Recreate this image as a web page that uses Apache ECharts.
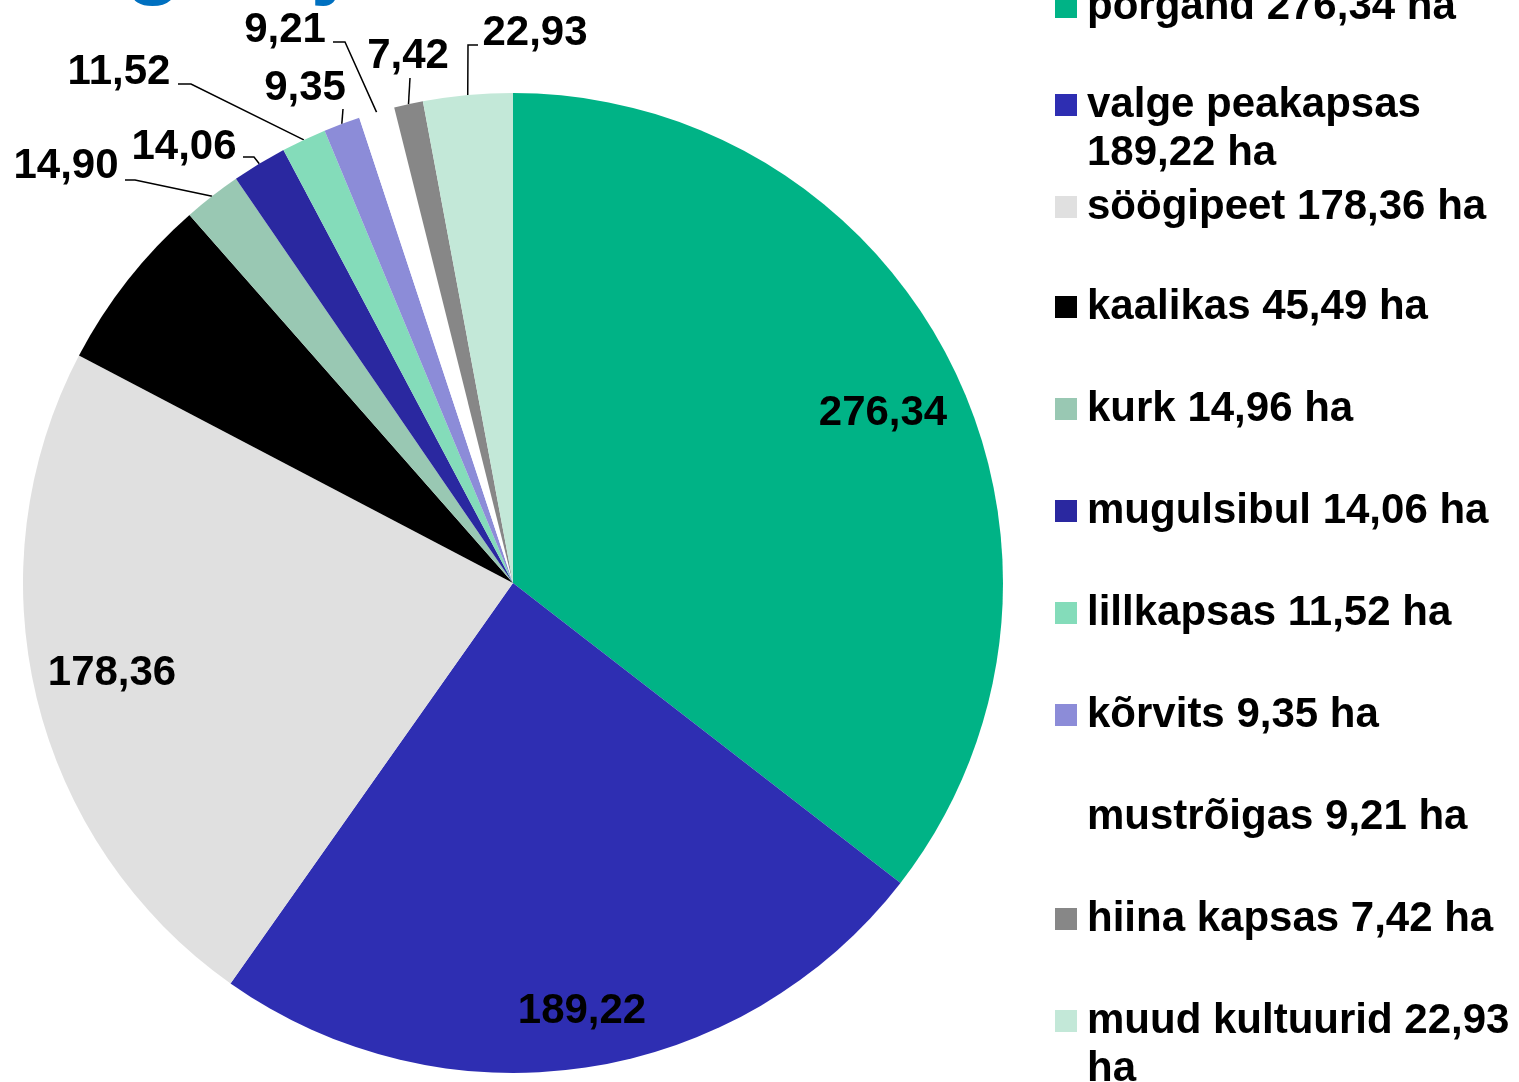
<!DOCTYPE html>
<html lang="et">
<head>
<meta charset="UTF-8">
<title>Köögiviljad</title>
<style>
  html, body { margin: 0; padding: 0; background: #fff; }
  #main { width: 1519px; height: 1082px; }
</style>
<script src="https://cdn.jsdelivr.net/npm/echarts@6.0.0/dist/echarts.min.js"></script>
</head>
<body>
<div id="main"></div>
<script>
// data
var names = ['porgand', 'valge peakapsas', 'söögipeet', 'kaalikas', 'kurk', 'mugulsibul',
             'lillkapsas', 'kõrvits', 'mustrõigas', 'hiina kapsas', 'muud kultuurid'];
var areas = [276.34, 189.22, 178.36, 45.49, 14.90, 14.06, 11.52, 9.35, 9.21, 7.42, 22.93];
// the legend of the original shows 14,96 for kurk
var legendAreas = [276.34, 189.22, 178.36, 45.49, 14.96, 14.06, 11.52, 9.35, 9.21, 7.42, 22.93];
var colors = ['#00B386', '#2E2EB2', '#E0E0E0', '#000000', '#99C8B3', '#2A28A0',
              '#84DCBA', '#8C8CD8', '#FFFFFF', '#878787', '#C3E8D8'];

// label placement (layout only)
var labelPos = [
  { x: 883, y: 413 },
  { x: 582, y: 1011 },
  { x: 112, y: 673 },
  null,
  { x: 66,  y: 166, elbow: [135, 180], end: [125, 180] },
  { x: 184, y: 147, elbow: [254, 157], end: [243, 157] },
  { x: 119, y: 72,  elbow: [191, 84],  end: [178, 84] },
  { x: 305, y: 88,  elbow: [343, 109], end: [343, 109] },
  { x: 285, y: 30,  elbow: [345, 42],  end: [333, 42] },
  { x: 408, y: 56,  elbow: [410, 78],  end: [410, 78] },
  { x: 535, y: 33,  elbow: [468, 45],  end: [478, 45] }
];
var insideIdx = [0, 1, 2, 3];
var noLabelIdx = [3]; // black on black in the original, not visible
// legend rows: y of the first text line
var legendRowY = [7, 105, 207, 307, 409, 511, 613, 715, 817, 919, 1021];
var legendTextWidth = 432;

var font = '"Liberation Sans", Arial, sans-serif';
var legendFont = 'bold 42px ' + font;

function fmt(v) {
    return v.toFixed(2).replace('.', ',');
}

// simple word wrap at spaces
var ctx = document.createElement('canvas').getContext('2d');
function wrapLines(text) {
    ctx.font = legendFont;
    var words = text.split(' ');
    var lines = [];
    var cur = '';
    words.forEach(function (w) {
        var test = cur ? cur + ' ' + w : w;
        if (cur && ctx.measureText(test).width > legendTextWidth) {
            lines.push(cur);
            cur = w;
        } else {
            cur = test;
        }
    });
    lines.push(cur);
    return lines;
}

var main = document.getElementById('main');
var myChart = echarts.init(main);

var pieData = names.map(function (n, i) {
    var inside = insideIdx.indexOf(i) >= 0;
    return {
        name: n,
        value: areas[i],
        itemStyle: { color: colors[i] },
        label: { show: noLabelIdx.indexOf(i) < 0, position: inside ? 'inside' : 'outside' },
        labelLine: { show: !inside }
    };
});

var legends = names.map(function (n, i) {
    var lines = wrapLines(n + ' ' + fmt(legendAreas[i]) + ' ha');
    var extra = lines.length - 1;
    // blank lines in front keep the marker next to the first text line
    var text = new Array(extra + 1).join('\n') + lines.join('\n');
    return {
        orient: 'vertical',
        left: 1055,
        top: legendRowY[i] - 24 - extra * 48,
        padding: 0,
        itemWidth: 22,
        itemHeight: 22,
        icon: 'rect',
        selectedMode: false,
        data: [n],
        formatter: function () { return text; },
        textStyle: {
            fontFamily: font,
            fontWeight: 'bold',
            fontSize: 42,
            lineHeight: 48,
            color: '#000',
            padding: [0, 0, 0, 5]
        }
    };
});

var option = {
    animation: false,
    backgroundColor: '#fff',
    graphic: [{
        type: 'text',
        x: -62,
        y: -40,
        style: {
            text: 'Köögiviljad',
            font: 'bold 96px ' + font,
            fill: '#0070C0',
            textVerticalAlign: 'middle'
        }
    }],
    legend: legends,
    series: [{
        type: 'pie',
        center: [513, 583],
        radius: 490,
        startAngle: 90,
        clockwise: true,
        avoidLabelOverlap: false,
        emphasis: { disabled: true },
        itemStyle: { borderWidth: 0 },
        label: {
            show: true,
            formatter: function (p) { return fmt(p.value); },
            fontFamily: font,
            fontWeight: 'bold',
            fontSize: 42,
            color: '#000'
        },
        labelLine: {
            lineStyle: { color: '#000', width: 1.5 }
        },
        labelLayout: function (params) {
            var p = labelPos[params.dataIndex];
            if (!p) return {};
            var out = { x: p.x, y: p.y, align: 'center', verticalAlign: 'middle' };
            if (p.end && params.labelLinePoints) {
                out.labelLinePoints = [params.labelLinePoints[0], p.elbow, p.end];
            }
            return out;
        },
        data: pieData
    }]
};

myChart.setOption(option);
</script>
</body>
</html>
